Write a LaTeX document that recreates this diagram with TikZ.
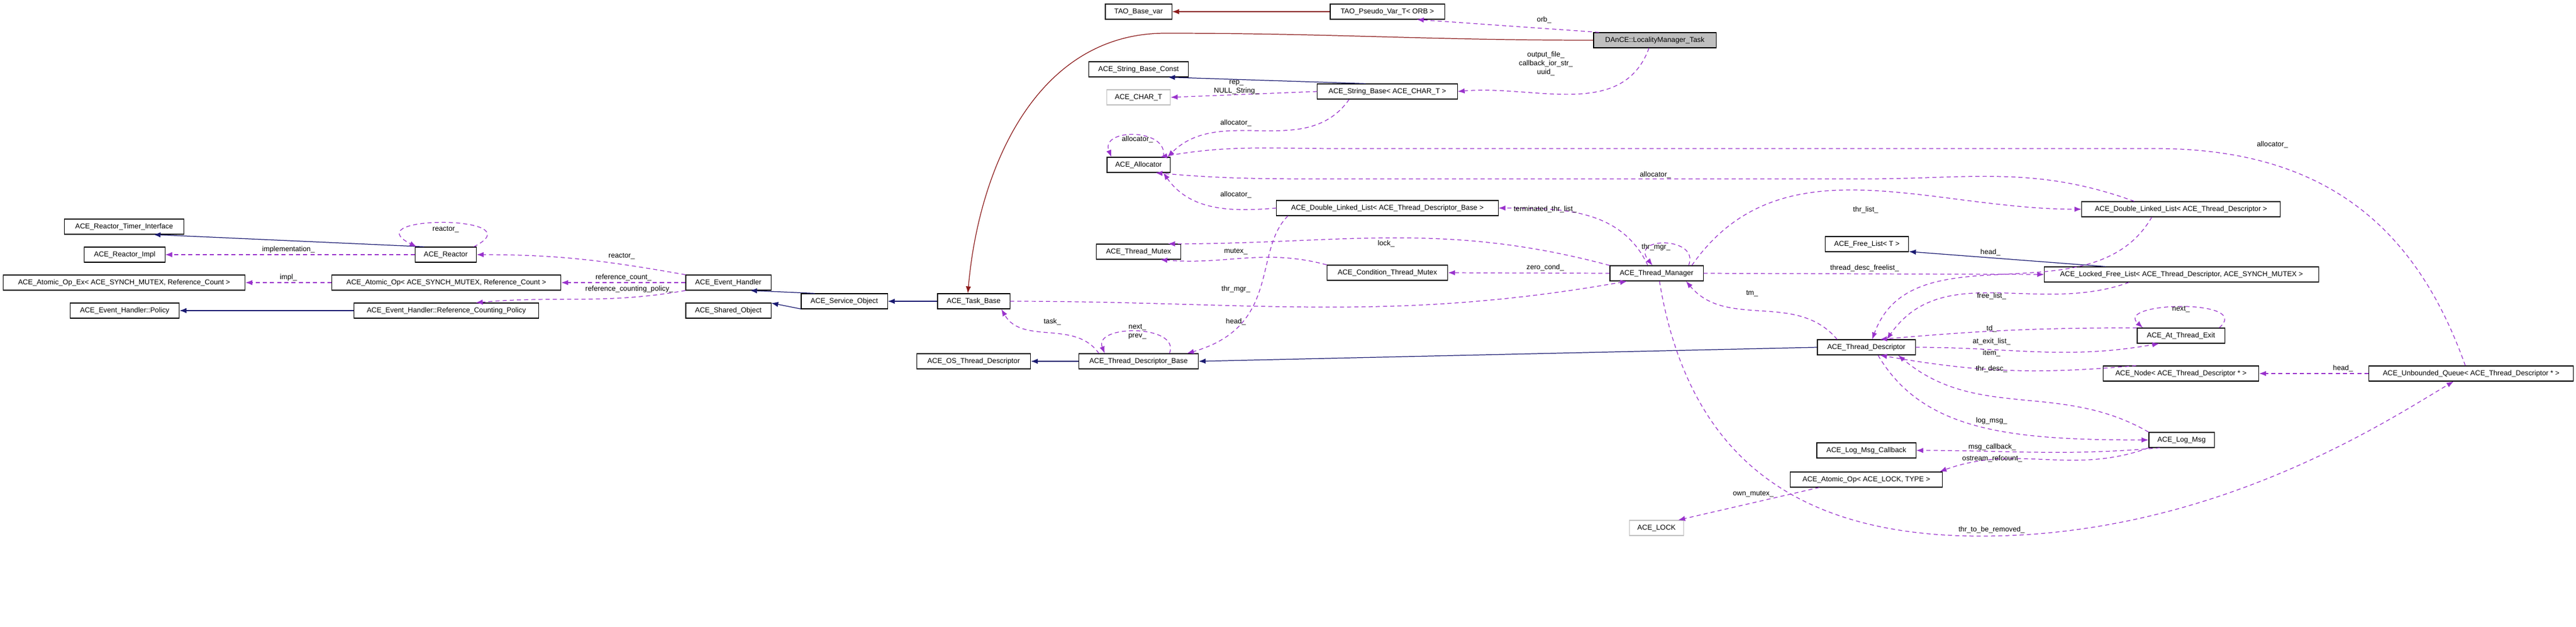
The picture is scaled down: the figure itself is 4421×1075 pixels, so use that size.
\documentclass[tikz,border=0pt]{standalone}
\usepackage{fontspec}
\setmainfont{Liberation Sans}
\usetikzlibrary{arrows.meta,positioning}
\definecolor{inhblue}{RGB}{25,25,112}
\definecolor{usepurple}{RGB}{153,50,204}
\definecolor{tmplred}{RGB}{139,26,26}
\tikzset{
  cls/.style={draw, fill=white, line width=0.3pt, minimum height=0.26cm, inner sep=0.5pt,
    font=\fontsize{3.5}{4.2}\selectfont},
  clsgray/.style={cls, draw=black!25},
  clsfocus/.style={cls, fill=black!25},
  lbl/.style={inner sep=0pt, align=center, font=\fontsize{3.5}{4.2}\selectfont},
  inh/.style={draw=inhblue, line width=0.35pt, -{Latex[length=1.2mm,width=0.9mm]}},
  tmpl/.style={draw=tmplred, line width=0.35pt, -{Latex[length=1.2mm,width=0.9mm]}},
  use/.style={draw=usepurple, line width=0.35pt, dash pattern=on 2pt off 1.5pt,
    -{Latex[length=1.2mm,width=0.9mm]}, fill=none},
}
\begin{document}
\begin{tikzpicture}[x=0.01cm, y=-0.01cm, >=Latex]
\useasboundingbox (0,0) rectangle (4421,1075);
% Classes, left part
\node[cls, minimum width=2.05cm] (rti) at (213,389) {ACE\_Reactor\_Timer\_Interface};
\node[cls, minimum width=1.38cm] (rimpl) at (214,437) {ACE\_Reactor\_Impl};
\node[cls, minimum width=4.15cm] (aopex) at (213,485) {ACE\_Atomic\_Op\_Ex< ACE\_SYNCH\_MUTEX, Reference\_Count >};
\node[cls, minimum width=1.87cm] (policy) at (214,533) {ACE\_Event\_Handler::Policy};
\node[cls, minimum width=1.05cm] (reactor) at (765,437) {ACE\_Reactor};
\node[cls, minimum width=3.93cm] (aop) at (766,485) {ACE\_Atomic\_Op< ACE\_SYNCH\_MUTEX, Reference\_Count >};
\node[cls, minimum width=3.16cm] (rcpolicy) at (766,533) {ACE\_Event\_Handler::Reference\_Counting\_Policy};
\node[cls, minimum width=1.46cm] (evh) at (1250,485) {ACE\_Event\_Handler};
\node[cls, minimum width=1.46cm] (shobj) at (1250,533) {ACE\_Shared\_Object};
\node[cls, minimum width=1.48cm] (svcobj) at (1449,517) {ACE\_Service\_Object};
\node[cls, minimum width=1.24cm] (taskbase) at (1671,517) {ACE\_Task\_Base};
\node[cls, minimum width=1.95cm] (ostd) at (1671,620) {ACE\_OS\_Thread\_Descriptor};
\node[cls, minimum width=2.05cm] (tdb) at (1954,620) {ACE\_Thread\_Descriptor\_Base};
% Classes, middle part
\node[cls, minimum width=1.14cm] (basevar) at (1954,20) {TAO\_Base\_var};
\node[cls, minimum width=1.96cm] (pseudovar) at (2381,20) {TAO\_Pseudo\_Var\_T< ORB >};
\node[clsfocus, minimum width=2.10cm] (lmtask) at (2840,69) {DAnCE::LocalityManager\_Task};
\node[cls, minimum width=1.71cm] (sbconst) at (1954,119) {ACE\_String\_Base\_Const};
\node[clsgray, minimum width=1.09cm] (chart) at (1954,167) {ACE\_CHAR\_T};
\node[cls, minimum width=2.40cm] (sbase) at (2381,157) {ACE\_String\_Base< ACE\_CHAR\_T >};
\node[cls, minimum width=1.08cm] (alloc) at (1954,283) {ACE\_Allocator};
\node[cls, minimum width=3.80cm] (dlltdb) at (2381,357) {ACE\_Double\_Linked\_List< ACE\_Thread\_Descriptor\_Base >};
\node[cls, minimum width=1.45cm] (tmutex) at (1954,432) {ACE\_Thread\_Mutex};
\node[cls, minimum width=2.07cm] (ctmutex) at (2381,468) {ACE\_Condition\_Thread\_Mutex};
\node[cls, minimum width=1.60cm] (tmgr) at (2843,469) {ACE\_Thread\_Manager};
% Classes, right part
\node[cls, minimum width=3.40cm] (dlltd) at (3743,359) {ACE\_Double\_Linked\_List< ACE\_Thread\_Descriptor >};
\node[cls, minimum width=1.43cm] (freelist) at (3204,419) {ACE\_Free\_List< T >};
\node[cls, minimum width=4.70cm] (lfl) at (3744,471) {ACE\_Locked\_Free\_List< ACE\_Thread\_Descriptor, ACE\_SYNCH\_MUTEX >};
\node[cls, minimum width=1.68cm] (td) at (3203,596) {ACE\_Thread\_Descriptor};
\node[cls, minimum width=1.50cm] (ate) at (3743,576) {ACE\_At\_Thread\_Exit};
\node[cls, minimum width=2.67cm] (tdnode) at (3743,641) {ACE\_Node< ACE\_Thread\_Descriptor * >};
\node[cls, minimum width=3.51cm] (uq) at (4241,641) {ACE\_Unbounded\_Queue< ACE\_Thread\_Descriptor * >};
\node[cls, minimum width=1.12cm] (logmsg) at (3744,755) {ACE\_Log\_Msg};
\node[cls, minimum width=1.70cm] (lmcb) at (3203,773) {ACE\_Log\_Msg\_Callback};
\node[cls, minimum width=2.60cm] (aoplock) at (3203,823) {ACE\_Atomic\_Op< ACE\_LOCK, TYPE >};
\node[clsgray, minimum width=0.93cm] (acelock) at (2843,906) {ACE\_LOCK};
% Inheritance
\draw[inh] (reactor.160) -- (rti.-15);
\draw[inh] (rcpolicy.west) -- (policy.east);
\draw[inh] (svcobj.165) -- (evh.-20);
\draw[inh] (svcobj.190) -- (shobj.10);
\draw[inh] (taskbase.west) -- (svcobj.east);
\draw[inh] (sbase.160) -- (sbconst.-15);
\draw[inh] (tdb.west) -- (ostd.east);
\draw[inh] (td.west) -- (tdb.east);
\draw[inh] ([xshift=-1.3cm]lfl.north) -- (freelist.-10);
\draw[tmpl] (pseudovar.west) -- (basevar.east);
\draw[tmpl] (lmtask.west) to[out=180,in=0] (2000,57) to[out=180,in=85] ([xshift=-0.1cm]taskbase.north);
% Usage, left part
\draw[use] (reactor.west) -- (rimpl.east);
\draw[use] ([xshift=-0.05cm]reactor.north east) .. controls +(110,-55) and +(-110,-55) .. ([xshift=0.03cm]reactor.north west);
\draw[use] (aop.west) -- (aopex.east);
\draw[use] (evh.north west) to[out=170,in=0] (reactor.east);
\draw[use] (evh.west) -- (aop.east);
\draw[use] (evh.south west) to[out=190,in=5] (rcpolicy.15);
% Usage, middle part
\draw[use] ([xshift=0.1cm]lmtask.north west) -- (pseudovar.-15);
\draw[use] ([xshift=-0.1cm]lmtask.south) to[out=250,in=5] (sbase.east);
\draw[use] (sbase.west) -- (chart.east);
\draw[use] ([xshift=0.55cm]sbase.south west) to[out=235,in=45] ([xshift=-0.05cm]alloc.north east);
\draw[use] ([xshift=-0.12cm]alloc.north east) .. controls +(10,-50) and +(-20,-50) .. ([xshift=0.08cm]alloc.north west);
\draw[use] (dlltdb.west) to[out=185,in=-55] ([xshift=-0.12cm]alloc.south east);
\draw[use] ([xshift=-0.8cm]dlltd.north) to[out=160,in=0] (3200,307) -- (2300,307) to[out=180,in=-5] (alloc.-25);
\draw[use] ([xshift=-0.1cm]uq.north) .. controls (4150,400) and (4000,255) .. (3700,255) -- (2300,255) to[out=180,in=10] (alloc.20);
\draw[use] ([xshift=-0.15cm]tmgr.north) to[out=115,in=0] (dlltdb.east);
\draw[use] (tmgr.north west) to[out=165,in=0] (tmutex.15);
\draw[use] (ctmutex.north west) to[out=165,in=-5] (tmutex.-20);
\draw[use] (tmgr.west) -- (ctmutex.east);
\draw[use] ([xshift=0.55cm]tmgr.north) .. controls +(20,-50) and +(-40,-50) .. ([xshift=-0.07cm]tmgr.north);
\draw[use] (taskbase.east) to[out=0,in=190] (tmgr.-165);
\draw[use] ([xshift=0.35cm]tdb.north west) to[out=125,in=-60] ([xshift=-0.15cm]taskbase.south east);
\draw[use] ([xshift=-0.5cm]tdb.north east) .. controls +(20,-50) and +(-20,-50) .. ([xshift=0.45cm]tdb.north west);
\draw[use] ([xshift=0.2cm]dlltdb.south west) .. controls (2150,430) and (2200,560) .. ([xshift=-0.2cm]tdb.north east);
% Usage, right part
\draw[use] ([xshift=-0.2cm]tmgr.north east) to[out=55,in=180] (dlltd.west);
\draw[use] (tmgr.east) -- (lfl.west);
\draw[use] ([xshift=-0.5cm]td.north) to[out=130,in=-50] ([xshift=-0.3cm]tmgr.south east);
\draw[use] ([xshift=-0.5cm]dlltd.south) to[out=240,in=70] ([xshift=0.1cm]td.north);
\draw[use] ([xshift=-0.9cm]lfl.south) to[out=200,in=55] ([xshift=0.35cm]td.north);
\draw[use] (ate.170) to[out=180,in=5] (td.30);
\draw[use] (td.east) to[out=0,in=190] (ate.200);
\draw[use] ([xshift=-0.1cm]ate.north east) .. controls +(60,-50) and +(-50,-45) .. ([xshift=0.1cm]ate.north west);
\draw[use] (tdnode.170) to[out=185,in=-10] (td.-30);
\draw[use] (uq.west) -- (tdnode.east);
\draw[use] (logmsg.north west) to[out=150,in=-40] ([xshift=-0.3cm]td.south east);
\draw[use] ([xshift=0.2cm]td.south) .. controls (3300,740) and (3450,755) .. (logmsg.west);
\draw[use] (logmsg.200) to[out=185,in=0] (lmcb.east);
\draw[use] (logmsg.south west) to[out=200,in=20] ([xshift=-0.05cm]aoplock.north east);
\draw[use] ([xshift=0.5cm]aoplock.south west) -- ([xshift=-0.1cm]acelock.north east);
\draw[use] ([xshift=0.05cm]tmgr.south) .. controls (2900,800) and (3100,920) .. (3400,920) .. controls (3800,920) and (4100,720) .. ([xshift=-0.3cm]uq.south);
% Labels
\node[lbl] (l1) at (765,394) {reactor\_};
\node[lbl] (l2) at (495,428) {implementation\_};
\node[lbl] (l3) at (495,476) {impl\_};
\node[lbl] (l4) at (1067,440) {reactor\_};
\node[lbl] (l5) at (1070,476) {reference\_count\_};
\node[lbl] (l6) at (1080,496) {reference\_counting\_policy\_};
\node[lbl] (l7) at (2650,34) {orb\_};
\node[lbl] (l8) at (2653,109) {output\_file\_\\callback\_ior\_str\_\\uuid\_};
\node[lbl] (l9) at (2122,150) {rep\_\\NULL\_String\_};
\node[lbl] (l10) at (2121,211) {allocator\_};
\node[lbl] (l11) at (1952,239) {allocator\_};
\node[lbl] (l12) at (2841,300) {allocator\_};
\node[lbl] (l13) at (3900,248) {allocator\_};
\node[lbl] (l14) at (2121,334) {allocator\_};
\node[lbl] (l15) at (2652,359) {terminated\_thr\_list\_};
\node[lbl] (l16) at (2379,418) {lock\_};
\node[lbl] (l17) at (2121,432) {mutex\_};
\node[lbl] (l18) at (2842,424) {thr\_mgr\_};
\node[lbl] (l19) at (2652,459) {zero\_cond\_};
\node[lbl] (l20) at (2121,496) {thr\_mgr\_};
\node[lbl] (l21) at (3007,504) {tm\_};
\node[lbl] (l22) at (1806,552) {task\_};
\node[lbl] (l23) at (1952,569) {next\_\\prev\_};
\node[lbl] (l24) at (2121,552) {head\_};
\node[lbl] (l25) at (3202,360) {thr\_list\_};
\node[lbl] (l26) at (3416,433) {head\_};
\node[lbl] (l27) at (3200,460) {thread\_desc\_freelist\_};
\node[lbl] (l28) at (3418,508) {free\_list\_};
\node[lbl] (l29) at (3743,531) {next\_};
\node[lbl] (l30) at (3418,564) {td\_};
\node[lbl] (l31) at (3418,586) {at\_exit\_list\_};
\node[lbl] (l32) at (3418,606) {item\_};
\node[lbl] (l33) at (3418,633) {thr\_desc\_};
\node[lbl] (l34) at (4021,632) {head\_};
\node[lbl] (l35) at (3418,722) {log\_msg\_};
\node[lbl] (l36) at (3419,767) {msg\_callback\_};
\node[lbl] (l37) at (3419,787) {ostream\_refcount\_};
\node[lbl] (l38) at (3009,848) {own\_mutex\_};
\node[lbl] (l39) at (3418,909) {thr\_to\_be\_removed\_};
\end{tikzpicture}
\end{document}
